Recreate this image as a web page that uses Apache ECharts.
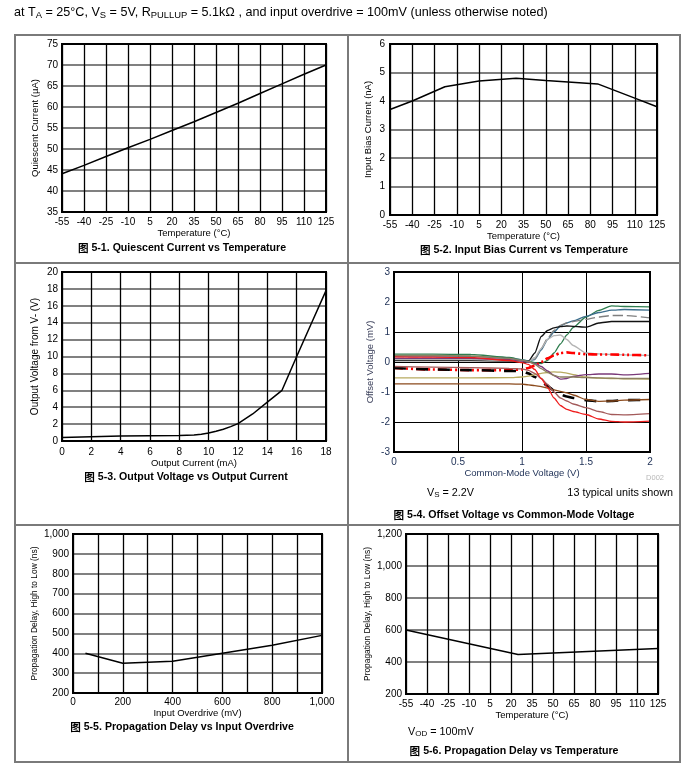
<!DOCTYPE html>
<html><head><meta charset="utf-8">
<script src="https://cdn.jsdelivr.net/npm/echarts@6/dist/echarts.min.js"></script>
<style>html,body{margin:0;padding:0;background:#fff}#c{width:697px;height:779px}</style>
</head><body><div id="c"></div>
<script>
// ---------- DATA ----------
// 5-1 Quiescent current vs temperature
const qTemp = [-55,-40,-25,-10,5,20,35,50,65,80,95,110,125];
const qCurrent = [44.1,46.1,48.2,50.3,52.3,54.4,56.5,58.7,60.9,63.2,65.5,67.8,70.0];
// 5-2 Input bias current vs temperature
const ibTemp = [-55,-40,-18,5,30,50,85,110,125];
const ibCurrent = [3.7,4.0,4.5,4.7,4.8,4.72,4.6,4.1,3.8];
// 5-3 Output voltage vs output current
const voCurrent = [0,2,4,6,8,9,9.5,10,10.5,11,11.5,12,13,14,15,16,17,18];
const voVoltage = [0.4,0.5,0.58,0.63,0.66,0.7,0.8,0.95,1.15,1.4,1.7,2.05,3.2,4.6,6.0,10,13.9,17.8];
// 5-4 Offset voltage vs common-mode voltage (13 units)
const cmVoltage = [0,0.3,0.6,0.9,1.0,1.05,1.1,1.15,1.2,1.25,1.3,1.35,1.4,1.5,1.6,1.7,1.8,2.0];
const offsetU1  = [0.26,0.26,0.25,0.15,0.08,0.03,-0.02,-0.05,0.05,0.3,0.6,0.9,1.15,1.5,1.72,1.87,1.85,1.84];
const offsetU2  = [0.2,0.2,0.19,0.12,0.07,0.04,0.08,0.4,0.75,1.0,1.2,1.3,1.37,1.52,1.65,1.73,1.75,1.73];
const offsetU3  = [0.12,0.12,0.11,0.07,0.03,0.01,0.1,0.45,0.8,1.05,1.22,1.3,1.35,1.42,1.5,1.55,1.55,1.47];
const offsetU4  = [0.05,0.05,0.05,0.03,0.01,0.02,0.3,0.85,1.05,1.14,1.18,1.2,1.19,1.16,1.3,1.35,1.35,1.35];
const offsetU5  = [0.08,0.08,0.08,0.05,0.02,0.0,0.15,0.45,0.75,0.88,0.9,0.75,0.55,0.3,0.27,0.25,0.24,0.22];
const offsetU6  = [-0.2,-0.25,-0.27,-0.27,-0.25,-0.2,-0.12,0.0,0.12,0.22,0.3,0.32,0.3,0.26,0.25,0.25,0.24,0.22];
const offsetU7  = [-0.2,-0.25,-0.27,-0.3,-0.3,-0.38,-0.5,-0.65,-0.8,-0.95,-1.08,-1.15,-1.2,-1.27,-1.31,-1.3,-1.27,-1.26];
const offsetU8  = [-0.73,-0.73,-0.73,-0.73,-0.74,-0.76,-0.79,-0.82,-0.87,-0.93,-0.98,-1.03,-1.1,-1.25,-1.31,-1.3,-1.27,-1.25];
const offsetU9  = [-0.53,-0.53,-0.53,-0.52,-0.5,-0.47,-0.42,-0.38,-0.35,-0.33,-0.34,-0.37,-0.42,-0.5,-0.54,-0.55,-0.56,-0.57];
const offsetU10 = [0.12,0.12,0.12,0.08,0.03,0.0,-0.05,-0.15,-0.3,-0.45,-0.57,-0.55,-0.48,-0.42,-0.4,-0.4,-0.43,-0.38];
const offsetU11 = [-0.15,-0.17,-0.19,-0.21,-0.23,-0.28,-0.38,-0.55,-0.75,-1.0,-1.2,-1.3,-1.4,-1.52,-1.65,-1.75,-1.76,-1.72];
const offsetU12 = [0.17,0.16,0.15,0.05,-0.02,-0.08,-0.25,-0.55,-0.85,-1.2,-1.45,-1.58,-1.65,-1.75,-1.9,-1.98,-2.0,-1.97];
const offsetU13 = [0.22,0.22,0.2,0.12,0.06,0.02,-0.08,-0.22,-0.35,-0.45,-0.5,-0.5,-0.5,-0.52,-0.53,-0.54,-0.55,-0.55];
// 5-5 Propagation delay vs input overdrive
const pdOverdrive = [50,200,400,600,800,1000];
const pdDelayOD = [400,350,360,400,440,490];
// 5-6 Propagation delay vs temperature
const pdTemp = [-55,25,125];
const pdDelayT = [600,447,485];

// ---------- BUILD ----------
const FONT = '"Liberation Sans", Arial, Helvetica, sans-serif';
const CJK = '"Noto Sans CJK SC", sans-serif';
const grids = [], xAxes = [], yAxes = [], series = [], graphics = [];
const T0 = 55; // temperature axis offset so ticks start at -55
const comma = v => String(v).replace(/\B(?=(\d{3})+(?!\d))/g, ',');

function addPanel(p) {
  const i = grids.length;
  const lab = p.labelColor || '#000';
  grids.push({left: p.x, top: p.y, width: p.w, height: p.h, show: false});
  xAxes.push({
    gridIndex: i, type: 'value', min: p.xmin, max: p.xmax, interval: p.xint,
    name: p.xname, nameLocation: 'middle', nameGap: p.xgap,
    nameTextStyle: {fontFamily: FONT, fontSize: p.xnfs || 9.5, color: p.nameColorX || lab},
    axisLine: {show: false}, axisTick: {show: false},
    axisLabel: {fontFamily: FONT, fontSize: 10, color: lab, margin: p.xm, formatter: p.xfmt, showMinLabel: true, showMaxLabel: true},
    splitLine: {show: true, lineStyle: {color: p.vColor || '#000', width: p.vWidth || 1.3}}
  });
  yAxes.push({
    gridIndex: i, type: 'value', min: p.ymin, max: p.ymax, interval: p.yint,
    name: p.yname, nameLocation: 'middle', nameGap: p.ygap,
    nameTextStyle: {fontFamily: FONT, fontSize: p.ynfs || 9.5, color: p.nameColorY || lab},
    axisLine: {show: false}, axisTick: {show: false},
    axisLabel: {fontFamily: FONT, fontSize: 10, color: lab, margin: p.ym, formatter: p.yfmt, showMinLabel: true, showMaxLabel: true},
    splitLine: {show: true, lineStyle: {color: p.hColor || '#808080', width: p.hWidth || 1.8}}
  });
  p.lines.forEach(l => {
    series.push({
      type: 'line', xAxisIndex: i, yAxisIndex: i, data: l.data, symbol: 'none',
      smooth: l.smooth || false, smoothMonotone: 'x', z: 5,
      lineStyle: {color: l.color || '#000', width: l.width || 1.5, type: l.type || 'solid'}
    });
  });
  graphics.push({type: 'rect', shape: {x: p.x, y: p.y, width: p.w, height: p.h},
    style: {fill: 'none', stroke: '#000', lineWidth: 2}, z: 100});
}

const tempFmt = v => String(v - T0);
const zip = (xs, ys, off) => xs.map((x, k) => [x + (off || 0), ys[k]]);

addPanel({x: 62, y: 44, w: 264, h: 168, xmin: 0, xmax: 180, xint: 15, ymin: 35, ymax: 75, yint: 5,
  xname: 'Temperature (°C)', yname: 'Quiescent Current (µA)', xgap: 15, ygap: 22, xm: 5, ym: 4,
  xfmt: tempFmt, lines: [{data: zip(qTemp, qCurrent, T0)}]});
addPanel({x: 390, y: 44, w: 267, h: 171, xmin: 0, xmax: 180, xint: 15, ymin: 0, ymax: 6, yint: 1,
  xname: 'Temperature (°C)', yname: 'Input Bias Current (nA)', xgap: 15, ygap: 17, xm: 5, ym: 5,
  xfmt: tempFmt, lines: [{data: zip(ibTemp, ibCurrent, T0)}]});
addPanel({x: 62, y: 272, w: 264, h: 169, xmin: 0, xmax: 18, xint: 2, ymin: 0, ymax: 20, yint: 2,
  xname: 'Output Current (mA)', yname: 'Output Voltage from V- (V)', xgap: 16, ygap: 22, xm: 6, ym: 4, ynfs: 10,
  lines: [{data: zip(voCurrent, voVoltage)}]});

const unitStyles = [
  {d: offsetU1, color: '#2e7d4e'}, {d: offsetU2, color: '#3c6e8c'},
  {d: offsetU3, color: '#7f7f7f', type: [10, 4]}, {d: offsetU4, color: '#111111'},
  {d: offsetU5, color: '#b4b4b4'}, {d: offsetU6, color: '#ff0000', width: 2.6, type: [9, 3, 2, 3, 2, 3]},
  {d: offsetU7, color: '#000000', width: 2.6, type: [12, 10]}, {d: offsetU8, color: '#8b4a1c'},
  {d: offsetU9, color: '#b8ab60'}, {d: offsetU10, color: '#7a3a7a'},
  {d: offsetU11, color: '#a35a5a'}, {d: offsetU12, color: '#ee1c1c'},
  {d: offsetU13, color: '#8c8060'}
];
addPanel({x: 394, y: 272, w: 256, h: 180, xmin: 0, xmax: 2, xint: 0.5, ymin: -3, ymax: 3, yint: 1,
  xname: 'Common-Mode Voltage (V)', yname: 'Offset Voltage (mV)', xgap: 16, ygap: 19, xm: 5, ym: 4,
  labelColor: '#1d2f55', nameColorY: '#3a3f5a', hColor: '#000', hWidth: 1, vColor: '#000', vWidth: 1,
  lines: unitStyles.map(u => ({data: zip(cmVoltage, u.d), color: u.color, width: u.width || 1.3, type: u.type, smooth: 0.2}))});
addPanel({x: 73, y: 534, w: 249, h: 159, xmin: 0, xmax: 1000, xint: 100, ymin: 200, ymax: 1000, yint: 100,
  xname: 'Input Overdrive (mV)', yname: 'Propagation Delay, High to Low (ns)', xgap: 14, ygap: 34, xm: 4, ym: 4, ynfs: 8.4,
  xfmt: v => (v % 200 === 0 ? comma(v) : ''), yfmt: v => comma(v),
  lines: [{data: zip(pdOverdrive, pdDelayOD)}]});
addPanel({x: 406, y: 534, w: 252, h: 160, xmin: 0, xmax: 180, xint: 15, ymin: 200, ymax: 1200, yint: 200,
  xname: 'Temperature (°C)', yname: 'Propagation Delay, High to Low (ns)', xgap: 15, ygap: 34, xm: 5, ym: 4, ynfs: 8.4,
  xfmt: tempFmt, yfmt: v => comma(v),
  lines: [{data: zip(pdTemp, pdDelayT, T0)}]});

// frame
const FR = {stroke: '#7a7a7a', lineWidth: 2};
graphics.push({type: 'rect', shape: {x: 15, y: 35, width: 665, height: 727}, style: Object.assign({fill: 'none'}, FR), z: 90});
graphics.push({type: 'line', shape: {x1: 15, y1: 263, x2: 680, y2: 263}, style: FR, z: 90});
graphics.push({type: 'line', shape: {x1: 15, y1: 525, x2: 680, y2: 525}, style: FR, z: 90});
graphics.push({type: 'line', shape: {x1: 348, y1: 35, x2: 348, y2: 762}, style: FR, z: 90});

const rich = {
  h: {fontFamily: FONT, fontSize: 12.6, color: '#000', verticalAlign: 'bottom', lineHeight: 15},
  hs: {fontFamily: FONT, fontSize: 9.4, color: '#000', verticalAlign: 'bottom', lineHeight: 7},
  a: {fontFamily: FONT, fontSize: 10.8, color: '#000', verticalAlign: 'bottom', lineHeight: 13},
  s: {fontFamily: FONT, fontSize: 8, color: '#000', verticalAlign: 'bottom', lineHeight: 6},
  i: {fontFamily: CJK, fontSize: 10.6, fontWeight: 'bold', color: '#000'},
  t: {fontFamily: FONT, fontSize: 10.6, fontWeight: 'bold', color: '#000'}
};
function txt(x, y, text, align) {
  graphics.push({type: 'text', x: x, y: y, z: 110,
    style: {text: text, rich: rich, align: align || 'left', verticalAlign: 'middle', fill: '#000', font: '12px ' + FONT}});
}
txt(14, 12, '{h|at T}{hs|A}{h| = 25°C, V}{hs|S}{h| = 5V, R}{hs|PULLUP}{h| = 5.1k\u2126 , and input overdrive = 100mV (unless otherwise noted)}');
txt(182, 248, '{i|图}{t| 5-1. Quiescent Current vs Temperature}', 'center');
txt(524, 250, '{i|图}{t| 5-2. Input Bias Current vs Temperature}', 'center');
txt(186, 477, '{i|图}{t| 5-3. Output Voltage vs Output Current}', 'center');
txt(514, 515, '{i|图}{t| 5-4. Offset Voltage vs Common-Mode Voltage}', 'center');
txt(182, 727, '{i|图}{t| 5-5. Propagation Delay vs Input Overdrive}', 'center');
txt(514, 751, '{i|图}{t| 5-6. Propagation Delay vs Temperature}', 'center');
txt(427, 492, '{a|V}{s|S}{a| = 2.2V}');
txt(673, 492, '{a|13 typical units shown}', 'right');
txt(408, 731, '{a|V}{s|OD}{a| = 100mV}');
graphics.push({type: 'text', x: 664, y: 478, z: 110,
  style: {text: 'D002', align: 'right', verticalAlign: 'middle', fill: '#b8b8b8', font: '7.5px ' + FONT}});

const chart = echarts.init(document.getElementById('c'), null, {renderer: 'canvas'});
chart.setOption({
  animation: false, backgroundColor: '#fff',
  grid: grids, xAxis: xAxes, yAxis: yAxes, series: series, graphic: graphics
});
</script></body></html>
